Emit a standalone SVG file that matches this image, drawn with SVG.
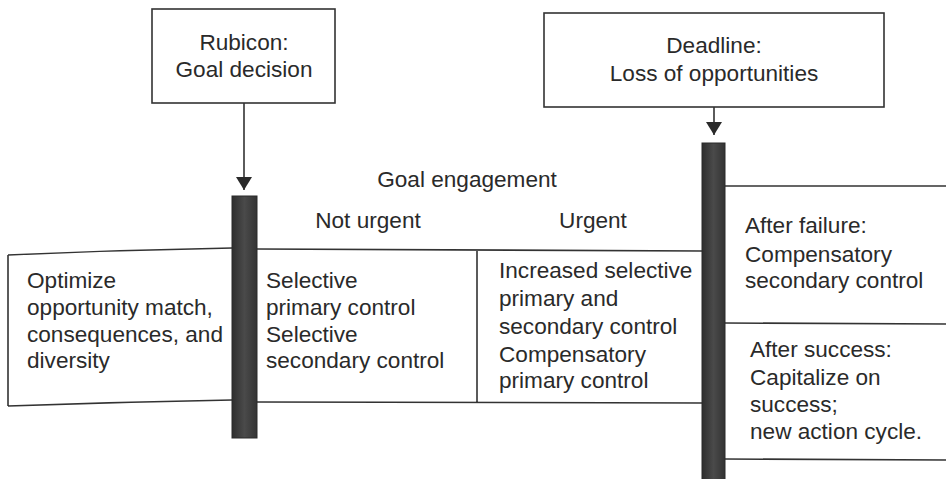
<svg xmlns="http://www.w3.org/2000/svg" width="946" height="479" viewBox="0 0 946 479">
<defs>
<style>
text{font-family:"Liberation Sans",Arial,Helvetica,sans-serif;font-size:22.6px;fill:#2a2a2a}
.c{text-anchor:middle}
.box{fill:#fff;stroke:#333;stroke-width:1.6}
.ln{fill:none;stroke:#333;stroke-width:1.6}
.bar{fill:url(#barg);stroke:#2a2a2a;stroke-width:1}
</style>
<linearGradient id="barg" x1="0" y1="0" x2="1" y2="0">
<stop offset="0" stop-color="#2e2e2e"/>
<stop offset="0.5" stop-color="#4a4a4a"/>
<stop offset="1" stop-color="#333"/>
</linearGradient>
<marker id="ah" viewBox="0 0 13 16" refX="13" refY="8" markerWidth="13" markerHeight="16" markerUnits="userSpaceOnUse" orient="auto">
<path d="M0,0 L13,8 L0,16 Z" fill="#2a2a2a"/>
</marker>
</defs>
<rect width="946" height="479" fill="#fff"/>

<g id="region-pre">
<path class="ln" d="M8,255 Q120,250 232,248 M8,255 L8,406 M8,406 Q120,402 232,400"/>
<text x="27" y="288">Optimize</text>
<text x="27" y="315">opportunity match,</text>
<text x="27" y="342">consequences, and</text>
<text x="27" y="368">diversity</text>
</g>

<g id="region-engagement">
<path class="ln" d="M257,249 L702,251 M257,402 L702,403 M477,251 L477,403"/>
<text class="c" x="467" y="187">Goal engagement</text>
<text class="c" x="368" y="228">Not urgent</text>
<text class="c" x="593" y="228">Urgent</text>
<text x="266" y="288">Selective</text>
<text x="266" y="315">primary control</text>
<text x="266" y="342">Selective</text>
<text x="266" y="368">secondary control</text>
<text x="499" y="278">Increased selective</text>
<text x="499" y="306">primary and</text>
<text x="499" y="334">secondary control</text>
<text x="499" y="362">Compensatory</text>
<text x="499" y="388">primary control</text>
</g>

<g id="region-post">
<path class="ln" d="M725,186 L946,186 M725,323 L946,324 M725,459 L946,460"/>
<text x="745" y="233">After failure:</text>
<text x="745" y="262">Compensatory</text>
<text x="745" y="288">secondary control</text>
<text x="750" y="357">After success:</text>
<text x="750" y="385">Capitalize on</text>
<text x="750" y="412">success;</text>
<text x="750" y="439">new action cycle.</text>
</g>

<g id="rubicon">
<rect class="box" x="152" y="9" width="183" height="94"/>
<text class="c" x="244" y="50">Rubicon:</text>
<text class="c" x="244" y="77">Goal decision</text>
</g>

<g id="deadline">
<rect class="box" x="544" y="13" width="340" height="94"/>
<text class="c" x="714" y="53">Deadline:</text>
<text class="c" x="714" y="81">Loss of opportunities</text>
</g>

<g id="bar-rubicon">
<rect class="bar" x="232" y="196" width="25" height="242"/>
</g>
<g id="bar-deadline">
<rect class="bar" x="702" y="143" width="23" height="340"/>
</g>

<g id="connectors">
<line class="ln" x1="244" y1="103" x2="244" y2="190" marker-end="url(#ah)"/>
<line class="ln" x1="714" y1="107" x2="714" y2="135" marker-end="url(#ah)"/>
</g>
</svg>
